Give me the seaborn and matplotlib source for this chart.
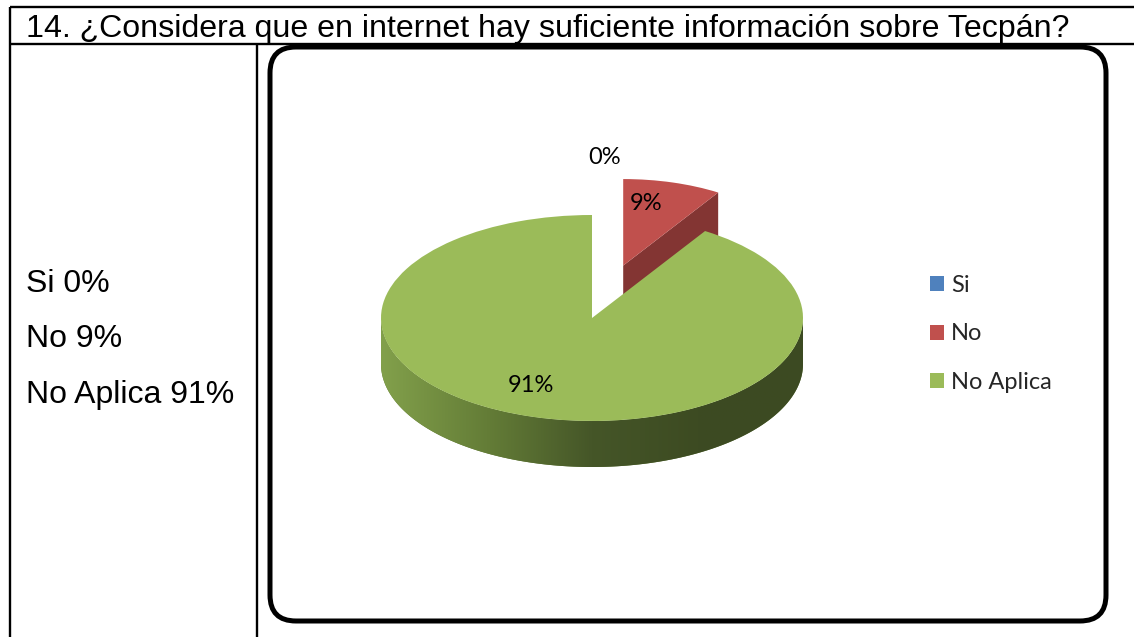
import numpy as np
import matplotlib
matplotlib.use("Agg")
import matplotlib.pyplot as plt
import seaborn as sns
from matplotlib.patches import Polygon, FancyBboxPatch
from matplotlib.colors import LinearSegmentedColormap

# data of the chart
categories = ["Si", "No", "No Aplica"]
percentages = [0, 9, 91]
pie_labels = ["0%", "9%", "91%"]
side_labels = ["Si 0%", "No 9%", "No Aplica 91%"]
colors = ["#4F81BD", "#C0504D", "#9BBB59"]
title = "14. ¿Considera que en internet hay suficiente información sobre Tecpán?"

sns.set_style("white")
plt.rcParams["font.family"] = ["Liberation Sans", "DejaVu Sans"]

W, H = 1134, 637
fig = plt.figure(figsize=(W / 100, H / 100), dpi=100)

# background axes in pixel units for the table and the rounded box
bg = fig.add_axes([0, 0, 1, 1])
bg.set_xlim(0, W)
bg.set_ylim(H, 0)
bg.axis("off")

for xs, ys in [([10, W], [7, 7]), ([10, W], [44, 44]), ([10, 10], [7, H]), ([257, 257], [44, H])]:
    bg.plot(xs, ys, color="black", lw=1.7, solid_capstyle="butt")

box = FancyBboxPatch((270, 47), 836, 574, boxstyle="round,pad=0,rounding_size=26",
                     facecolor="white", edgecolor="black", lw=3.6)
bg.add_patch(box)

bg.text(26, 37, title, fontsize=23.1, va="baseline", color="black")
for txt, yb in zip(side_labels, [292, 347, 403]):
    bg.text(26, yb, txt, fontsize=23, va="baseline", color="black")

# pie axes, one data unit = rx px horizontally and ry px vertically
cx, cy, rx, ry = 592, 318, 211, 103
depth = 46 / ry
L, R, T, B = 340, 845, 140, 500
ax = fig.add_axes([L / W, 1 - B / H, (R - L) / W, (B - T) / H])

wedges, _ = ax.pie(percentages, colors=colors, startangle=90, counterclock=False,
                   explode=[0, 0.53, 0], wedgeprops=dict(linewidth=0))

# red slice sits on the far side, so it looks smaller
red = wedges[1]
red.set_radius(0.84)
rcx, rcy = red.center
t1 = np.deg2rad(red.theta1)
px, py = rcx + 0.84 * np.cos(t1), rcy + 0.84 * np.sin(t1)
ax.add_patch(Polygon([(rcx, rcy), (px, py), (px, py - depth), (rcx, rcy - depth)],
                     closed=True, facecolor="#833533", edgecolor="none", zorder=1))
red.set_zorder(2)

# green slice: front side with gradient
green = wedges[2]
gcx, gcy = green.center
th = np.deg2rad(np.linspace(180, 360, 200))
top = np.column_stack([gcx + np.cos(th), gcy + np.sin(th)])
bot = top[::-1] - [0, depth]
side = Polygon(np.vstack([top, bot]), closed=True, facecolor="#5F7734",
               edgecolor="none", zorder=3)
ax.add_patch(side)
cmap = LinearSegmentedColormap.from_list("g", ["#82A04B", "#647D37", "#455628", "#3D4B22", "#3C4A22"])
grad = np.linspace(0, 1, 256).reshape(1, -1)
im = ax.imshow(grad, extent=(gcx - 1, gcx + 1, gcy - 1 - depth, gcy), aspect="auto",
               cmap=cmap, zorder=3.5)
im.set_clip_path(side)
green.set_zorder(4)
wedges[0].set_zorder(4)

lab_font = dict(family=["Lato", "DejaVu Sans"], fontsize=17, color="black",
                ha="center", va="center", zorder=5)
ax.text((605 - cx) / rx, (cy - 157) / ry, pie_labels[0], **lab_font)
ax.text((646 - cx) / rx, (cy - 204) / ry, pie_labels[1], **lab_font)
ax.text((531 - cx) / rx, (cy - 385) / ry, pie_labels[2], **lab_font)

ax.set_aspect("auto")
ax.set_xlim((L - cx) / rx, (R - cx) / rx)
ax.set_ylim((cy - B) / ry, (cy - T) / ry)
ax.axis("off")

ax.legend(wedges, categories, loc="center left", bbox_to_anchor=(930 / W, 1 - 334 / H),
          bbox_transform=fig.transFigure, frameon=False,
          prop=dict(family=["Lato", "DejaVu Sans"], size=17),
          handlelength=0.6, handleheight=0.6, handletextpad=0.3,
          labelspacing=1.17, borderpad=0, borderaxespad=0)

fig.savefig("out.png", dpi=100)
